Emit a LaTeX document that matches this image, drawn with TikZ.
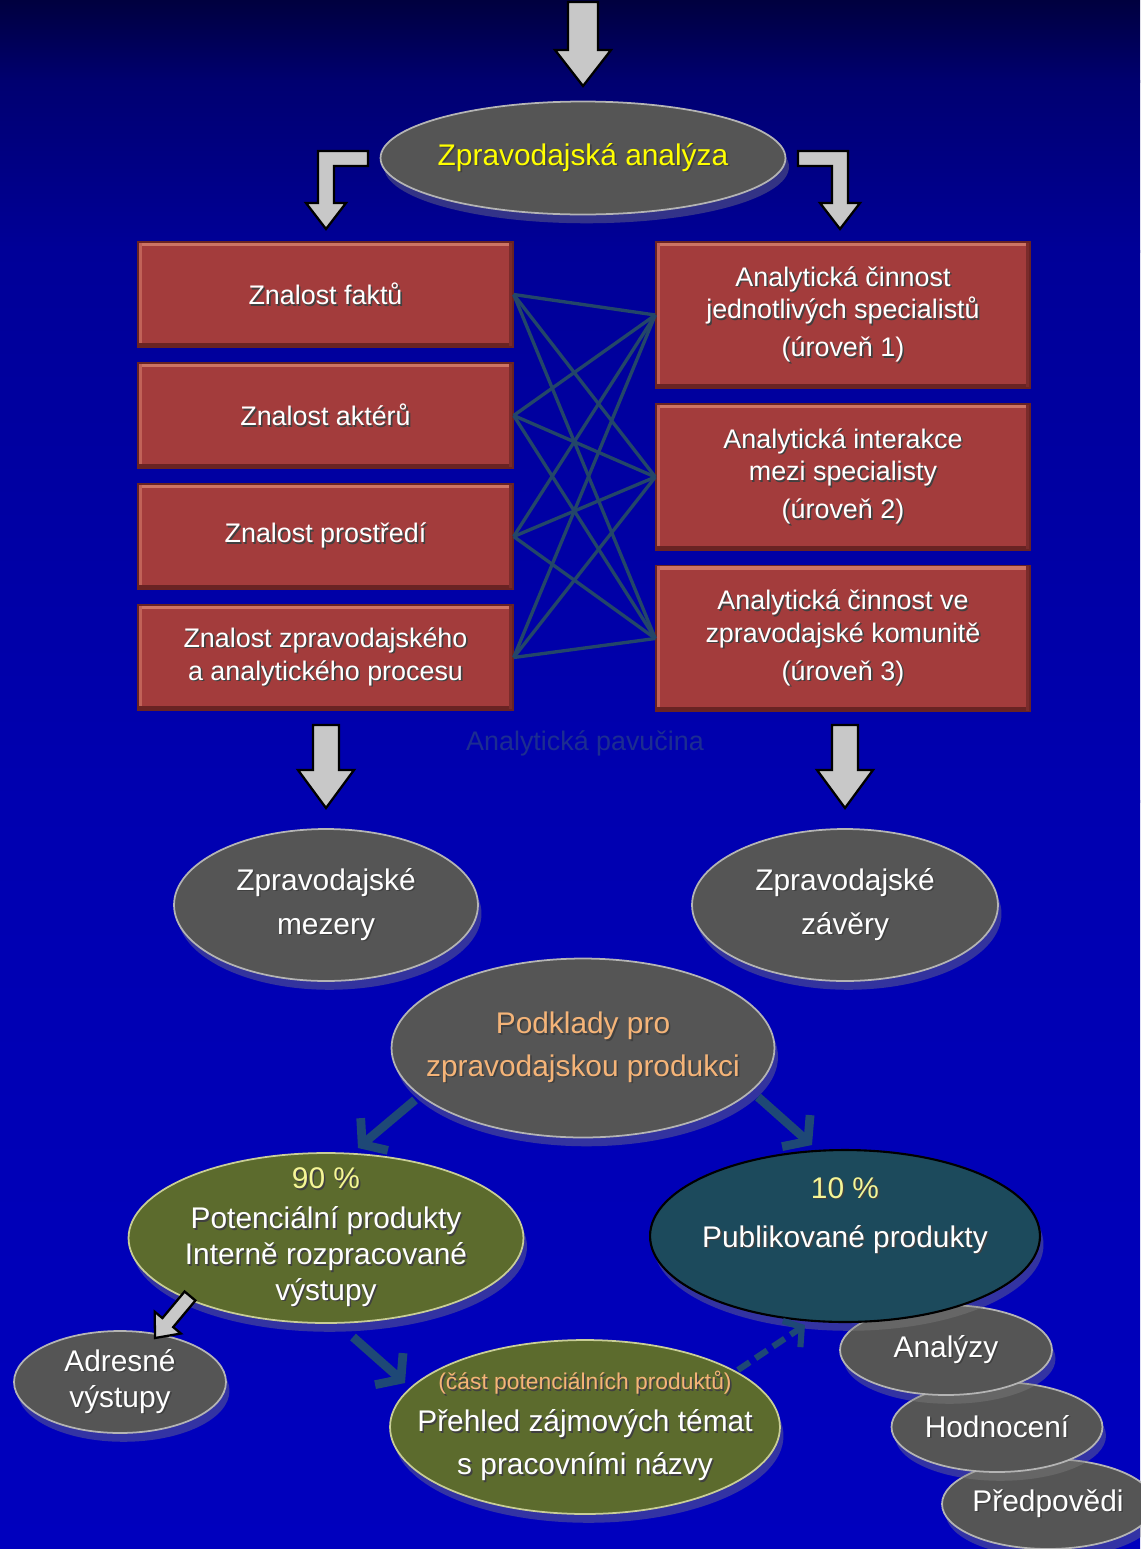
\documentclass[tikz,border=0pt]{standalone}
\usepackage{fontspec}
\setmainfont{Liberation Sans}
\usetikzlibrary{shapes.geometric,arrows.meta,shadows}
\definecolor{bgA}{RGB}{0,0,62}
\definecolor{bgB}{RGB}{0,0,112}
\definecolor{bgC}{RGB}{0,0,152}
\definecolor{bgD}{RGB}{0,0,176}
\definecolor{bgE}{RGB}{0,0,190}
\definecolor{boxred}{RGB}{163,60,60}
\definecolor{boxdark}{RGB}{105,35,35}
\definecolor{boxlight}{RGB}{205,115,100}
\definecolor{ellgray}{RGB}{85,85,85}
\definecolor{ellrim}{RGB}{180,180,180}
\definecolor{ellgreen}{RGB}{92,107,45}
\definecolor{greenrim}{RGB}{200,205,150}
\definecolor{ellteal}{RGB}{28,74,92}
\definecolor{webline}{RGB}{35,70,105}
\definecolor{arrgray}{RGB}{200,200,200}
\definecolor{peach}{RGB}{245,180,120}
\definecolor{paleyel}{RGB}{245,245,150}
\definecolor{titleyel}{RGB}{255,255,0}
\definecolor{labblue}{RGB}{28,45,145}
\definecolor{chevc}{RGB}{30,72,118}
\newcommand\shd[1]{\makebox[0pt][l]{\kern0.9pt\raisebox{-0.9pt}{\textcolor{black!75}{#1}}}#1}
\tikzset{
  bevel/.style={path picture={
    \fill[boxlight] (path picture bounding box.north west) rectangle ([yshift=-2.5pt]path picture bounding box.north east);
    \fill[boxlight!70!boxred] (path picture bounding box.north west) rectangle ([xshift=2pt]path picture bounding box.south west);
    \fill[boxdark] (path picture bounding box.south west) rectangle ([yshift=2.5pt]path picture bounding box.south east);
    \fill[boxdark!70!boxred] ([xshift=-2pt]path picture bounding box.north east) rectangle (path picture bounding box.south east);
  }},
  ell/.style={ellipse, inner sep=-60pt, align=center, text=white, draw=ellrim, line width=1pt, fill=ellgray,
    font=\fontsize{17}{25}\selectfont, drop shadow={opacity=0.4, shadow xshift=2pt, shadow yshift=-5pt}},
  greenell/.style={ell, fill=ellgreen, draw=greenrim},
  tealell/.style={ell, fill=ellteal, draw=black, line width=1.2pt},
  redbox/.style={rectangle, inner sep=0pt, align=center, text=white, fill=boxred, draw=boxdark, line width=0.8pt,
    font=\fontsize{15.3}{18.7}\selectfont, bevel},
  lbox/.style={redbox, minimum width=7.5cm, minimum height=2.1cm},
  rbox/.style={redbox, minimum width=7.48cm, minimum height=2.92cm},
  web/.style={draw=webline, line width=1.9pt},
  barrow/.style={fill=arrgray, draw=black, line width=1.3pt, line join=miter},
  chev/.style={draw=chevc, line width=5pt, -{Straight Barb[length=9pt,width=24pt]}},
}
\begin{document}
\begin{tikzpicture}[x=0.02cm,y=-0.02cm]
\useasboundingbox (0,0) rectangle (1140,1549);
% background
\fill[top color=bgA, bottom color=bgB] (0,-1) rectangle (1140,82);
\fill[top color=bgB, bottom color=bgC] (0,80) rectangle (1140,252);
\fill[top color=bgC, bottom color=bgD] (0,250) rectangle (1140,802);
\fill[top color=bgD, bottom color=bgE] (0,800) rectangle (1140,1550);

% top arrow
\draw[barrow] (568,2) -- (568,50) -- (555,50) -- (583,86) -- (611,50) -- (598,50) -- (598,2) -- cycle;

% title ellipse
\node[ell, minimum width=8.1cm, minimum height=2.26cm, text=titleyel] (za) at (583,158) {\shd{Zpravodajská analýza}};

% elbow arrows
\draw[barrow] (368,151) -- (318,151) -- (318,203) -- (306,203) -- (326,229) -- (346,203) -- (334,203) -- (334,166) -- (368,166) -- cycle;
\draw[barrow] (798,151) -- (848,151) -- (848,203) -- (860,203) -- (840,229) -- (820,203) -- (832,203) -- (832,166) -- (798,166) -- cycle;

% web
\node[lbox] (f1) at (325.5,294.5) {\shd{Znalost faktů}};
\node[lbox] (f2) at (325.5,415.5) {\shd{Znalost aktérů}};
\node[lbox] (f3) at (325.5,536.5) {\shd{Znalost prostředí}};
\node[lbox] (f4) at (325.5,657.5) {\shd{Znalost zpravodajského}\\\shd{a analytického procesu}};

\node[rbox] (a1) at (843,315) {\shd{Analytická činnost}\\\shd{jednotlivých specialistů}\\[2.8pt]\shd{(úroveň 1)}};
\node[rbox] (a2) at (843,477) {\shd{Analytická interakce}\\\shd{mezi specialisty}\\[2.8pt]\shd{(úroveň 2)}};
\node[rbox] (a3) at (843,638.5) {\shd{Analytická činnost ve}\\\shd{zpravodajské komunitě}\\[2.8pt]\shd{(úroveň 3)}};

\foreach \l in {f1,f2,f3,f4}
  \foreach \r in {a1,a2,a3}
    \draw[web] (\l.east) -- (\r.west);

\node[text=labblue, font=\fontsize{15.3}{18}\selectfont] (web) at (585,743) {Analytická pavučina};

% down arrows
\draw[barrow] (313,725) -- (313,770) -- (298,770) -- (326,808) -- (354,770) -- (339,770) -- (339,725) -- cycle;
\draw[barrow] (832,725) -- (832,770) -- (817,770) -- (845,808) -- (873,770) -- (858,770) -- (858,725) -- cycle;

% gray ellipses
\node[ell, minimum width=6.08cm, minimum height=3.04cm, font=\fontsize{17}{25}\selectfont] (mez) at (326,905) {\shd{Zpravodajské}\\\shd{mezery}};
\node[ell, minimum width=6.12cm, minimum height=3.04cm, font=\fontsize{17}{25}\selectfont] (zav) at (845,905) {\shd{Zpravodajské}\\\shd{závěry}};
\node[ell, minimum width=7.66cm, minimum height=3.58cm, text=peach, font=\fontsize{17}{24.4}\selectfont] (pod) at (583,1048) {\shd{Podklady pro}\\\shd{zpravodajskou produkci}};

% bottom right stack
\node[ell, minimum width=4.24cm, minimum height=1.8cm] (pre) at (1048,1504) {\shd{Předpovědi}};
\node[ell, minimum width=4.22cm, minimum height=1.8cm] (hod) at (997,1427) {\shd{Hodnocení}};
\node[ell, minimum width=4.24cm, minimum height=1.8cm] (ana) at (946,1350) {\shd{Analýzy}};

% green and teal
\node[greenell, minimum width=7.9cm, minimum height=3.4cm, font=\fontsize{17}{20.4}\selectfont] (pot) at (326,1238)
  {\textcolor{paleyel}{\shd{90 \%}}\\[2.3pt]\shd{Potenciální produkty}\\\shd{Interně rozpracované}\\\shd{výstupy}};
\node[tealell, minimum width=7.8cm, minimum height=3.44cm, font=\fontsize{17}{27.8}\selectfont, text depth=27pt] (pub) at (845,1236)
  {\textcolor{paleyel}{\shd{10 \%}}\\\shd{Publikované produkty}};

\node[ell, minimum width=4.24cm, minimum height=2.04cm, font=\fontsize{17}{20.4}\selectfont] (adr) at (120,1382) {\shd{Adresné}\\\shd{výstupy}};
\node[greenell, minimum width=7.8cm, minimum height=3.48cm, font=\fontsize{17}{24.4}\selectfont] (preh) at (585,1427)
  {\textcolor{peach}{\fontsize{13}{15}\selectfont\shd{(část potenciálních produktů)}}\\[-0.4pt]\shd{Přehled zájmových témat}\\\shd{s pracovními názvy}};

% gray diagonal arrow
\draw[barrow] (195.4,1300.5) -- (173.2,1327.1) -- (180.9,1333.5) -- (155,1338) -- (154.7,1311.7) -- (162.4,1318.1) -- (184.6,1291.5) -- cycle;

% chevron arrows
\coordinate (c1s) at (415,1100); \coordinate (c1e) at (358,1148);
\coordinate (c2s) at (758,1097); \coordinate (c2e) at (812,1145);
\coordinate (c3s) at (353,1337); \coordinate (c3e) at (405,1383);
\coordinate (c4s) at (738,1370); \coordinate (c4e) at (805,1325);
\draw[chev] (c1s) -- (c1e);
\draw[chev] (c2s) -- (c2e);
\draw[chev] (c3s) -- (c3e);
\draw[chev, line width=3.5pt, dash pattern=on 8pt off 4pt, -{Straight Barb[length=7pt,width=18pt]}] (c4s) -- (c4e);
\end{tikzpicture}
\end{document}
